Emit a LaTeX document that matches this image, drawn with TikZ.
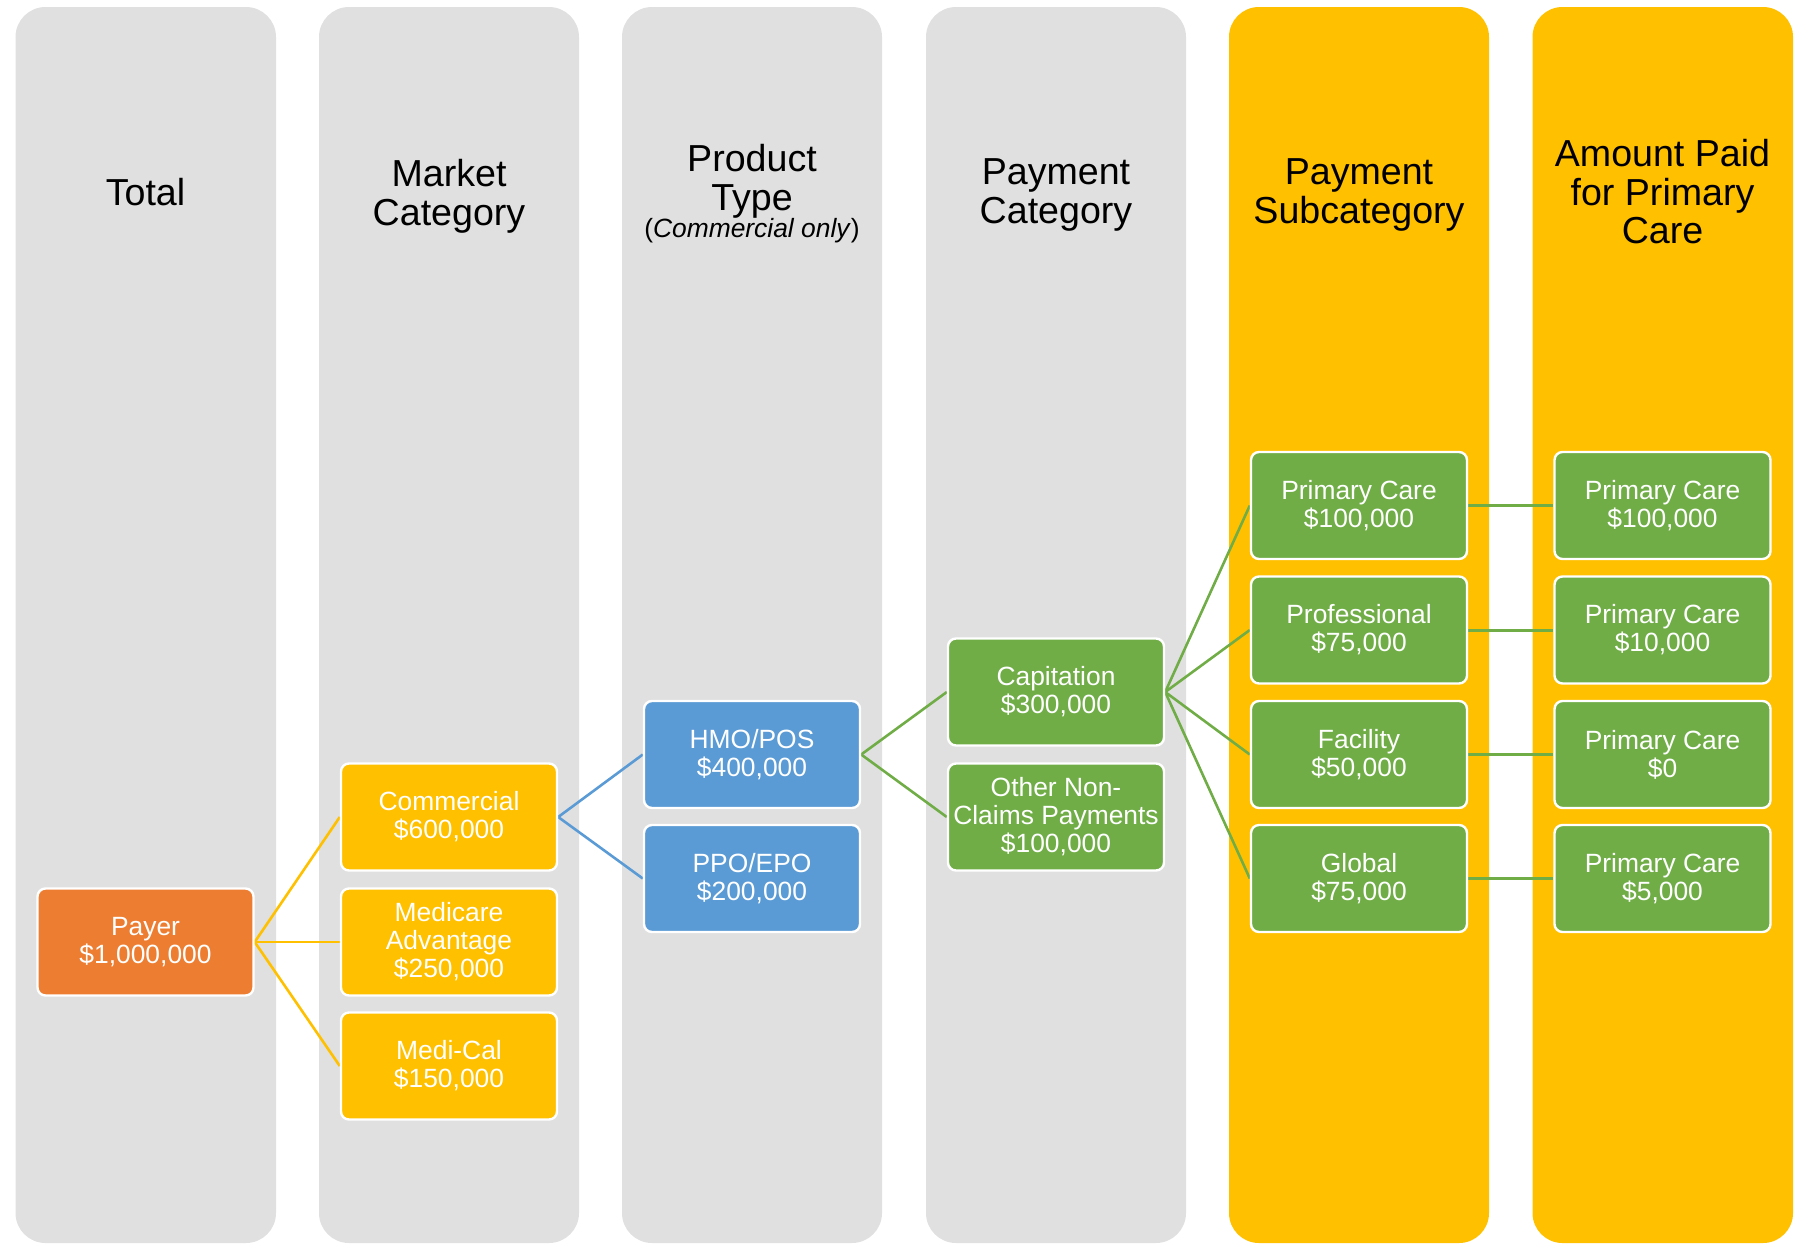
\documentclass[tikz,border=0pt]{standalone}
\usepackage{fontspec}
\setmainfont{Liberation Sans}
\definecolor{colgray}{RGB}{224,224,224}
\definecolor{ygold}{RGB}{255,192,0}
\definecolor{orng}{RGB}{237,125,49}
\definecolor{bblue}{RGB}{91,155,213}
\definecolor{ggreen}{RGB}{112,173,71}
\pgfdeclarelayer{bg}
\pgfsetlayers{bg,main}
\begin{document}
\begin{tikzpicture}[x=0.5pt,y=-0.5pt,
  colbox/.style={rounded corners=15pt},
  box/.style={draw=white, line width=1.2pt, rounded corners=4pt,
    minimum width=108pt, minimum height=53.5pt, inner sep=1pt,
    align=center, text=white, font=\fontsize{13.2}{14}\selectfont},
  head/.style={align=center, inner sep=0pt, anchor=north,
    font=\fontsize{18.8}{19.2}\selectfont},
  link/.style={line width=1.3pt}
]
\useasboundingbox (0,0) rectangle (1803,1243);

% headers
\node[head] (h1) at (145.5,177.5) {Total};
\node[head] (h2) at (449,159.3) {Market\\Category};
\node[head] (h3) at (752,144.3) {Product\\Type};
\node[anchor=base, inner sep=0pt, font=\fontsize{13.2}{14}\selectfont] (h3b) at (752,237.3) {(\textit{Commercial only})};
\node[head] (h4) at (1056,158.7) {Payment\\Category};
\node[head] (h5) at (1359,158.7) {Payment\\Subcategory};
\node[head] (h6) at (1662.5,139.3) {Amount Paid\\for Primary\\Care};

% boxes
\node[box, fill=orng] (payer) at (145.5,942) {Payer\\\$1,000,000};
\node[box, fill=ygold] (comm) at (449,817) {Commercial\\\$600,000};
\node[box, fill=ygold] (medadv) at (449,942) {Medicare\\Advantage\\\$250,000};
\node[box, fill=ygold] (medical) at (449,1066) {Medi-Cal\\\$150,000};
\node[box, fill=bblue] (hmo) at (752,754.5) {HMO/POS\\\$400,000};
\node[box, fill=bblue] (ppo) at (752,878.5) {PPO/EPO\\\$200,000};
\node[box, fill=ggreen] (cap) at (1056,692) {Capitation\\\$300,000};
\node[box, fill=ggreen] (oth) at (1056,817) {Other Non-\\Claims Payments\\\$100,000};
\node[box, fill=ggreen] (pc) at (1359,505.5) {Primary Care\\\$100,000};
\node[box, fill=ggreen] (prof) at (1359,630) {Professional\\\$75,000};
\node[box, fill=ggreen] (fac) at (1359,754.5) {Facility\\\$50,000};
\node[box, fill=ggreen] (glob) at (1359,878.5) {Global\\\$75,000};
\node[box, fill=ggreen] (a1) at (1662.5,505.5) {Primary Care\\\$100,000};
\node[box, fill=ggreen] (a2) at (1662.5,630) {Primary Care\\\$10,000};
\node[box, fill=ggreen] (a3) at (1662.5,754.5) {Primary Care\\\$0};
\node[box, fill=ggreen] (a4) at (1662.5,878.5) {Primary Care\\\$5,000};

\begin{pgfonlayer}{bg}
  \fill[colgray, colbox] (15.5,7) rectangle (276,1243);
  \fill[colgray, colbox] (319,7) rectangle (579,1243);
  \fill[colgray, colbox] (622,7) rectangle (882,1243);
  \fill[colgray, colbox] (926,7) rectangle (1186,1243);
  \fill[ygold, colbox] (1229,7) rectangle (1489,1243);
  \fill[ygold, colbox] (1532.5,7) rectangle (1793,1243);

  \draw[link, ygold] (payer.east) -- (comm.west);
  \draw[link, ygold] (payer.east) -- (medadv.west);
  \draw[link, ygold] (payer.east) -- (medical.west);
  \draw[link, bblue] (comm.east) -- (hmo.west);
  \draw[link, bblue] (comm.east) -- (ppo.west);
  \draw[link, ggreen] (hmo.east) -- (cap.west);
  \draw[link, ggreen] (hmo.east) -- (oth.west);
  \draw[link, ggreen] (cap.east) -- (pc.west);
  \draw[link, ggreen] (cap.east) -- (prof.west);
  \draw[link, ggreen] (cap.east) -- (fac.west);
  \draw[link, ggreen] (cap.east) -- (glob.west);
  \draw[link, ggreen, line width=1.5pt] (pc.east) -- (a1.west);
  \draw[link, ggreen, line width=1.5pt] (prof.east) -- (a2.west);
  \draw[link, ggreen, line width=1.5pt] (fac.east) -- (a3.west);
  \draw[link, ggreen, line width=1.5pt] (glob.east) -- (a4.west);
\end{pgfonlayer}
\end{tikzpicture}
\end{document}
